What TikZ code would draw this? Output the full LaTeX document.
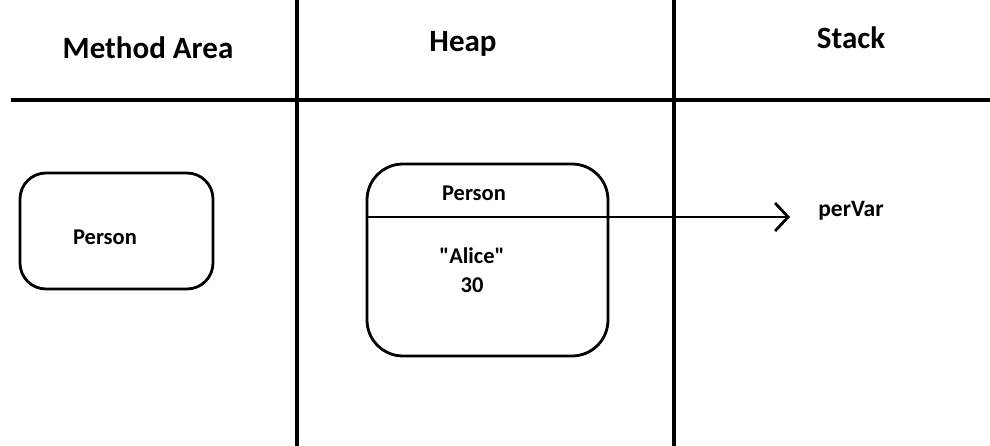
\documentclass[tikz,border=0pt]{standalone}
\usepackage{fontspec}
\setmainfont{Carlito}
\newfontfamily\calfont{Carlito}
\usetikzlibrary{arrows.meta}
\begin{document}
\begin{tikzpicture}[x=1pt,y=-1pt,
  big/.style={font=\calfont\fontsize{31}{36}\selectfont\bfseries, inner sep=0pt},
  small/.style={font=\calfont\fontsize{22.5}{27}\selectfont\bfseries, inner sep=0pt},
  grid/.style={line width=4pt},
  box/.style={line width=2.8pt, rounded corners=#1},
  conn/.style={line width=2.8pt, -{Straight Barb[length=13pt,width=28pt,line width=2.8pt]}}]
\useasboundingbox (0,0) rectangle (990,446);
% grid lines
\coordinate (hl) at (11,100);
\coordinate (hr) at (990,100);
\coordinate (v1t) at (297,0);
\coordinate (v1b) at (297,446);
\coordinate (v2t) at (674,0);
\coordinate (v2b) at (674,446);
\draw[grid] (hl) -- (hr);
\draw[grid] (v1t) -- (v1b);
\draw[grid] (v2t) -- (v2b);
% headers
\node[big] (ma) at (148,48) {Method Area};
\node[big] (heap) at (463,44) {Heap};
\node[big] (stack) at (851,38) {Stack};
% method area box
\draw[box=26pt] (20,173) rectangle (213,289);
\node[small] (p1) at (105,237) {Person};
% heap box
\draw[box=36pt] (367,164) rectangle (608,356);
\coordinate (divl) at (367,217);
\coordinate (divr) at (608,217);
\draw[line width=2.8pt] (divl) -- (divr);
\node[small] (p2) at (474,193) {Person};
\node[small] (alice) at (472,256) {"Alice"};
\node[small] (age) at (472,285) {30};
% stack
\node[small, font=\calfont\fontsize{23.5}{27}\selectfont\bfseries] (pv) at (851,211) {perVar};
\coordinate (tip) at (790,217);
\draw[conn] (divr) -- (tip);
\end{tikzpicture}
\end{document}
